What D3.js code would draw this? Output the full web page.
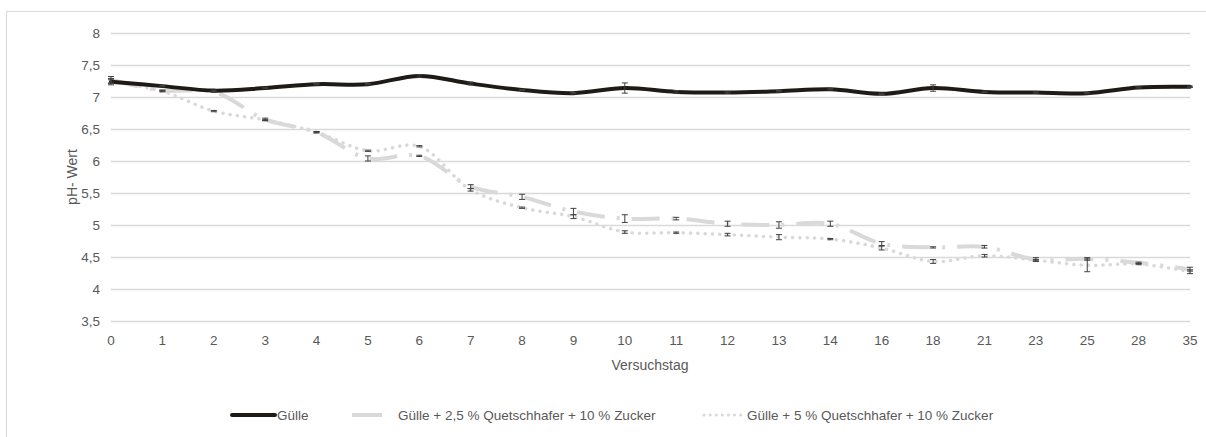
<!DOCTYPE html>
<html>
<head>
<meta charset="utf-8">
<script src="https://cdn.jsdelivr.net/npm/d3@7"></script>
<style>
  body { margin: 0; background: #fff; }
  text { font-family: "Liberation Sans", Arial, sans-serif; fill: #595959; }
</style>
</head>
<body>
<script>
var days = ["0","1","2","3","4","5","6","7","8","9","10","11","12","13","14","16","18","21","23","25","28","35"];
var yTicks = [3.5, 4, 4.5, 5, 5.5, 6, 6.5, 7, 7.5, 8];

var guelle = [7.24,7.17,7.10,7.14,7.20,7.20,7.33,7.21,7.11,7.06,7.14,7.08,7.07,7.09,7.12,7.05,7.14,7.08,7.07,7.06,7.15,7.16];
var guelleErr = [0.03,0.01,0.01,0.01,0.01,0.01,0.02,0.02,0.01,0.01,0.08,0.02,0.01,0.01,0.01,0.01,0.05,0.01,0.01,0.01,0.01,0.01];

var hafer25 = [7.27,7.10,7.08,6.65,6.45,6.04,6.08,5.60,5.44,5.21,5.10,5.10,5.02,5.00,5.02,4.71,4.65,4.66,4.46,4.47,4.41,4.31];
var hafer25Err = [0.05,0.01,0.01,0.02,0.01,0.04,0.01,0.03,0.04,0.05,0.06,0.02,0.04,0.05,0.04,0.03,0.01,0.02,0.03,0.02,0.01,0.03];

var hafer5 = [7.24,7.09,6.78,6.64,6.45,6.16,6.23,5.55,5.27,5.13,4.89,4.88,4.85,4.81,4.78,4.64,4.43,4.52,4.45,4.37,4.39,4.27];
var hafer5Err = [0.05,0.01,0.01,0.01,0.01,0.01,0.01,0.02,0.01,0.03,0.02,0.01,0.02,0.04,0.01,0.03,0.03,0.02,0.01,0.10,0.01,0.03];

var names = ["Gülle", "Gülle + 2,5 % Quetschhafer + 10 % Zucker", "Gülle + 5 % Quetschhafer + 10 % Zucker"];

var width = 1206, height = 437;
var fmt = function(v) { return String(v).replace(".", ","); };

var svg = d3.select("body").append("svg")
    .attr("width", width)
    .attr("height", height);

svg.append("rect")
    .attr("x", 6.5).attr("y", 11.5)
    .attr("width", 1220).attr("height", 450)
    .style("fill", "#fff")
    .style("stroke", "#d9d9d9");

var x = d3.scalePoint().domain(days).range([111, 1190]);
var y = d3.scaleLinear().domain([3.5, 8]).range([321, 33]);

// gridlines
svg.selectAll(".grid")
    .data(yTicks)
    .enter().append("line")
    .attr("x1", 111).attr("x2", 1190)
    .attr("y1", function(d) { return Math.round(y(d)) + 0.5; })
    .attr("y2", function(d) { return Math.round(y(d)) + 0.5; })
    .style("stroke", "#d9d9d9")
    .style("stroke-width", 1.3);

// y labels
svg.selectAll(".ylab")
    .data(yTicks)
    .enter().append("text")
    .attr("x", 100)
    .attr("y", function(d) { return y(d) + 5; })
    .attr("text-anchor", "end")
    .style("font-size", "13.5px")
    .text(fmt);

// x labels
svg.selectAll(".xlab")
    .data(days)
    .enter().append("text")
    .attr("x", function(d) { return x(d); })
    .attr("y", 345)
    .attr("text-anchor", "middle")
    .style("font-size", "13.5px")
    .text(function(d) { return d; });

svg.append("text")
    .attr("x", 650).attr("y", 370)
    .attr("text-anchor", "middle")
    .style("font-size", "14px")
    .text("Versuchstag");

svg.append("text")
    .attr("transform", "translate(77,177) rotate(-90)")
    .attr("text-anchor", "middle")
    .style("font-size", "14px")
    .text("pH- Wert");

var line = d3.line()
    .x(function(d, i) { return x(days[i]); })
    .y(function(d) { return y(d); })
    .curve(d3.curveCatmullRom);

var series = [
  { vals: hafer5, err: hafer5Err, color: "#d9d9d9", w: 3.5, dash: "0.1 7.2", cap: "round" },
  { vals: hafer25, err: hafer25Err, color: "#d9d9d9", w: 4, dash: "28 12 3 12", cap: "butt" },
  { vals: guelle, err: guelleErr, color: "#1e1a16", w: 4, dash: null, cap: "round" }
];

series.forEach(function(s) {
  svg.append("path")
      .datum(s.vals)
      .attr("d", line)
      .style("fill", "none")
      .style("stroke", s.color)
      .style("stroke-width", s.w)
      .style("stroke-linecap", s.cap)
      .style("stroke-linejoin", "round")
      .style("stroke-dasharray", s.dash);
});

series.forEach(function(s) {
  var g = svg.append("g").style("stroke", "#404040").style("stroke-width", 1);
  s.vals.forEach(function(v, i) {
    var cx = x(days[i]);
    var top = y(v + s.err[i]), bot = y(v - s.err[i]);
    g.append("line").attr("x1", cx).attr("x2", cx).attr("y1", top).attr("y2", bot);
    g.append("line").attr("x1", cx - 3).attr("x2", cx + 3).attr("y1", top).attr("y2", top);
    g.append("line").attr("x1", cx - 3).attr("x2", cx + 3).attr("y1", bot).attr("y2", bot);
  });
});

// legend
var legY = 415;
var leg = [
  { x1: 232, x2: 275, tx: 277, color: "#1e1a16", w: 4, dash: null, cap: "round" },
  { x1: 352, x2: 382, tx: 398, color: "#d9d9d9", w: 4, dash: null, cap: "butt" },
  { x1: 704, x2: 744, tx: 747, color: "#d9d9d9", w: 3, dash: "0.1 6", cap: "round" }
];
leg.forEach(function(l, i) {
  svg.append("line")
      .attr("x1", l.x1).attr("x2", l.x2)
      .attr("y1", legY).attr("y2", legY)
      .style("stroke", l.color)
      .style("stroke-width", l.w)
      .style("stroke-linecap", l.cap)
      .style("stroke-dasharray", l.dash);
  svg.append("text")
      .attr("x", l.tx).attr("y", legY + 5)
      .style("font-size", "13.5px")
      .text(names[i]);
});
</script>
</body>
</html>
